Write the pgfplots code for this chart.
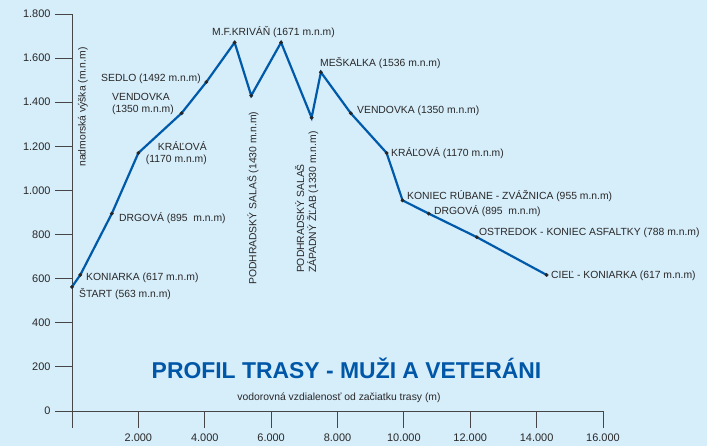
\documentclass[border=0pt]{standalone}
\usepackage{fontspec}
\setmainfont{Liberation Sans}
\usepackage{pgfplots}
\pgfplotsset{compat=1.18}
\definecolor{bgc}{RGB}{214,237,250}
\definecolor{lineblue}{RGB}{0,90,170}
\definecolor{titleblue}{RGB}{0,87,168}
\definecolor{axgray}{RGB}{70,70,70}
\definecolor{txt}{RGB}{40,40,40}
\tikzset{lbl/.style={font=\fontsize{10.4}{12}\selectfont, text=txt, inner sep=0pt}}
\begin{document}
\begin{tikzpicture}
\fill[bgc] (-72bp,-35bp) rectangle (635bp,411bp);
\begin{axis}[
  scale only axis,
  width=531bp, height=397bp,
  xmin=0, xmax=16000, ymin=0, ymax=1800,
  enlargelimits=false,
  scaled x ticks=false, scaled y ticks=false,
  axis lines=left,
  axis line style={-, draw=axgray, line width=0.8bp},
  tick style={draw=axgray, line width=0.8bp},
  tick align=outside,
  major tick length=17bp,
  xtick={0,2000,4000,6000,8000,10000,12000,14000,16000},
  xticklabels={{},2.000,4.000,6.000,8.000,10.000,12.000,14.000,16.000},
  ytick={0,200,400,600,800,1000,1200,1400,1600,1800},
  yticklabels={0,200,400,600,800,1.000,1.200,1.400,1.600,1.800},
  ticklabel style={font=\fontsize{11}{13}\selectfont, text=txt},
  xticklabel style={yshift=-2bp},
  yticklabel style={xshift=-1bp},
  clip=false,
]
\addplot[color=lineblue, line width=2.2bp, mark=*, mark size=1.8bp,
  mark options={fill=black!85, draw=black!85, line width=0.3bp}] coordinates {
  (0,563) (250,617) (1200,895) (2000,1170) (3300,1350) (4050,1492)
  (4900,1671) (5400,1430) (6300,1671) (7220,1330) (7500,1536)
  (8400,1350) (9480,1170) (9960,955) (10750,895) (12200,788) (14300,617)
};
\node[lbl, anchor=west] at (axis cs:211,530) {ŠTART (563 m.n.m)};
\node[lbl, anchor=west] at (axis cs:422,603) {KONIARKA (617 m.n.m)};
\node[lbl, anchor=west] at (axis cs:1416,875) {DRGOVÁ (895\ \ m.n.m)};
\node[lbl, anchor=east, align=right] at (axis cs:4068,1170) {KRÁĽOVÁ\\(1170 m.n.m)};
\node[lbl, anchor=west, align=left] at (axis cs:1205,1392) {VENDOVKA\\(1350 m.n.m)};
\node[lbl, anchor=west] at (axis cs:874,1505) {SEDLO (1492 m.n.m)};
\node[lbl, anchor=west] at (axis cs:4218,1718) {M.F.KRIVÁŇ (1671 m.n.m)};
\node[lbl, anchor=west, rotate=90] at (axis cs:5454,571) {PODHRADSKÝ SALAŠ (1430 m.n.m)};
\node[lbl, anchor=west, rotate=90, align=left] at (axis cs:7072,625) {PODHRADSKÝ SALAŠ\\ZÁPADNÝ ŽĽAB (1330 m.n.m)};
\node[lbl, anchor=west] at (axis cs:7472,1578) {MEŠKALKA (1536 m.n.m)};
\node[lbl, anchor=west] at (axis cs:8587,1360) {VENDOVKA (1350 m.n.m)};
\node[lbl, anchor=west] at (axis cs:9611,1170) {KRÁĽOVÁ (1170 m.n.m)};
\node[lbl, anchor=west] at (axis cs:10094,975) {KONIEC RÚBANE - ZVÁŽNICA (955 m.n.m)};
\node[lbl, anchor=west] at (axis cs:10907,907) {DRGOVÁ (895\ \ m.n.m)};
\node[lbl, anchor=west] at (axis cs:12263,807) {OSTREDOK - KONIEC ASFALTKY (788 m.n.m)};
\node[lbl, anchor=west] at (axis cs:14432,612) {CIEĽ - KONIARKA (617 m.n.m)};
\node[lbl, rotate=90] at (axis cs:331,1378) {nadmorská výška (m.n.m)};
\node[lbl] at (axis cs:8045,59) {vodorovná vzdialenosť od začiatku trasy (m)};
\node[font=\fontsize{23}{27}\selectfont\bfseries, text=titleblue, inner sep=0pt] at (axis cs:8271,195) {PROFIL TRASY - MUŽI A VETERÁNI};
\end{axis}
\end{tikzpicture}
\end{document}
